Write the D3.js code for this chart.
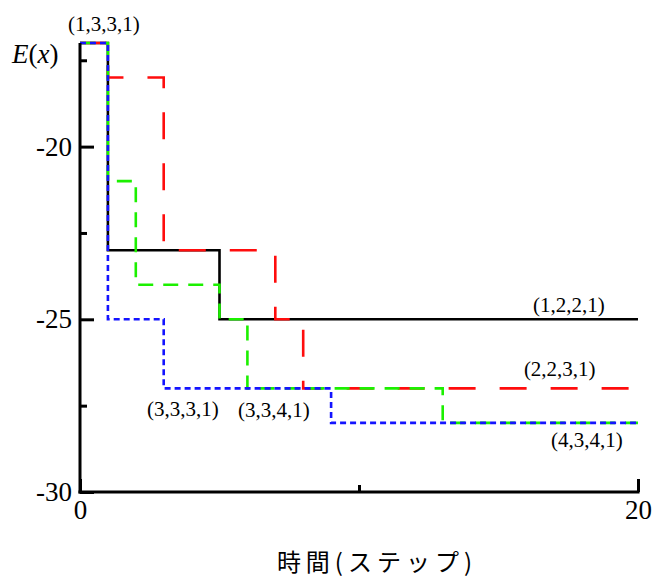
<!DOCTYPE html>
<html>
<head>
<meta charset="utf-8">
<script src="https://cdn.jsdelivr.net/npm/d3@7"></script>
<style>
  html, body { margin: 0; padding: 0; background: #fff; }
  svg { display: block; }
</style>
</head>
<body>
<svg id="chart" width="658" height="580"></svg>
<script>
// Energy E(x) per time step for four runs, stored as step-change points [step, energy].
const runBlack = [[0, -17], [1, -23], [5, -25]];
const runRed   = [[0, -17], [1, -18], [3, -23], [7, -25], [8, -27]];
const runGreen = [[0, -17], [1, -21], [2, -24], [5, -25], [6, -27], [13, -28]];
const runBlue  = [[0, -17], [1, -25], [3, -27], [9, -28]];

const xEnd = 20;
const xMajorTicks = [0, 20];
const xMinorTicks = [10];
const yMajorTicks = [-30, -25, -20];
const yMinorTicks = [-27.5, -22.5, -17.5];

// state labels, anchored at a step and energy level, nudged in pixels
const labelText = ["(1,3,3,1)", "(1,2,2,1)", "(2,2,3,1)", "(4,3,4,1)", "(3,3,3,1)", "(3,3,4,1)"];
const labelStep = [-0.43, 16.24, 15.91, 16.88, 2.40, 5.66];
const labelLevel = [-17, -25, -27, -28, -27, -27];
const labelNudge = [-12, -7, -12, 24.5, 28, 29];

const svg = d3.select("#chart");
const x = d3.scaleLinear().domain([0, xEnd]).range([80, 638]);
const y = d3.scaleLinear().domain([-30, -17]).range([492, 43]);

const serif = "'Liberation Serif', 'Times New Roman', serif";

// step traces, extended to the last step
const line = d3.line()
  .x(d => x(d[0]))
  .y(d => y(d[1]))
  .curve(d3.curveStepAfter);

const series = [
  { data: runBlack, color: "#000000", dash: null },
  { data: runRed,   color: "#ff0d0d", dash: "27,24" },
  { data: runGreen, color: "#1cf000", dash: "15,10" },
  { data: runBlue,  color: "#1414ff", dash: "6,4" }
];

series.forEach(s => {
  const pts = s.data.concat([[xEnd, s.data[s.data.length - 1][1]]]);
  svg.append("path")
    .attr("d", line(pts))
    .attr("fill", "none")
    .attr("stroke", s.color)
    .attr("stroke-width", 2.6)
    .attr("stroke-dasharray", s.dash);
});

const plain = d => String(d);

// y axis: inward ticks
const gy = svg.append("g").attr("transform", `translate(${x(0)},0)`);
gy.call(d3.axisLeft(y).tickValues(yMajorTicks).tickSizeInner(-14).tickSizeOuter(0).tickPadding(8).tickFormat(plain));
gy.append("g").call(d3.axisLeft(y).tickValues(yMinorTicks).tickSizeInner(-7).tickSizeOuter(0).tickFormat(""));
gy.selectAll(".domain").remove();

// x axis: inward ticks
const gx = svg.append("g").attr("transform", `translate(0,${y(-30)})`);
gx.call(d3.axisBottom(x).tickValues(xMajorTicks).tickSizeInner(-13).tickSizeOuter(0).tickPadding(8).tickFormat(plain));
gx.append("g").call(d3.axisBottom(x).tickValues(xMinorTicks).tickSizeInner(-7).tickSizeOuter(0).tickFormat(""));
gx.selectAll(".domain").remove();

[gx, gy].forEach(g => {
  g.selectAll("line").attr("stroke", "#000").attr("stroke-width", 3);
  g.selectAll("text").attr("font-family", serif).attr("font-size", 27).attr("fill", "#000");
});

// axis lines
svg.append("line")
  .attr("x1", x(0)).attr("x2", x(0)).attr("y1", y(-17)).attr("y2", y(-30) + 1.5)
  .attr("stroke", "#000").attr("stroke-width", 3);
svg.append("line")
  .attr("x1", x(0) - 1.5).attr("x2", x(xEnd) + 1.5).attr("y1", y(-30)).attr("y2", y(-30))
  .attr("stroke", "#000").attr("stroke-width", 3);

// y axis title
const yt = svg.append("text")
  .attr("x", 12).attr("y", 63)
  .attr("font-family", serif).attr("font-size", 27).attr("fill", "#000");
yt.append("tspan").attr("font-style", "italic").text("E");
yt.append("tspan").text("(");
yt.append("tspan").attr("font-style", "italic").text("x");
yt.append("tspan").text(")");

// x axis title
svg.append("text")
  .attr("x", 377).attr("y", 571)
  .attr("text-anchor", "middle")
  .attr("font-family", "'Noto Sans CJK JP', sans-serif")
  .attr("font-size", 24).attr("letter-spacing", 5).attr("fill", "#000")
  .text("時間(ステップ)");

// run labels
svg.append("g").selectAll("text").data(labelText).join("text")
  .attr("x", (d, i) => x(labelStep[i]))
  .attr("y", (d, i) => y(labelLevel[i]) + labelNudge[i])
  .attr("font-family", serif)
  .attr("font-size", 21)
  .attr("fill", "#000")
  .text(d => d);
</script>
</body>
</html>
